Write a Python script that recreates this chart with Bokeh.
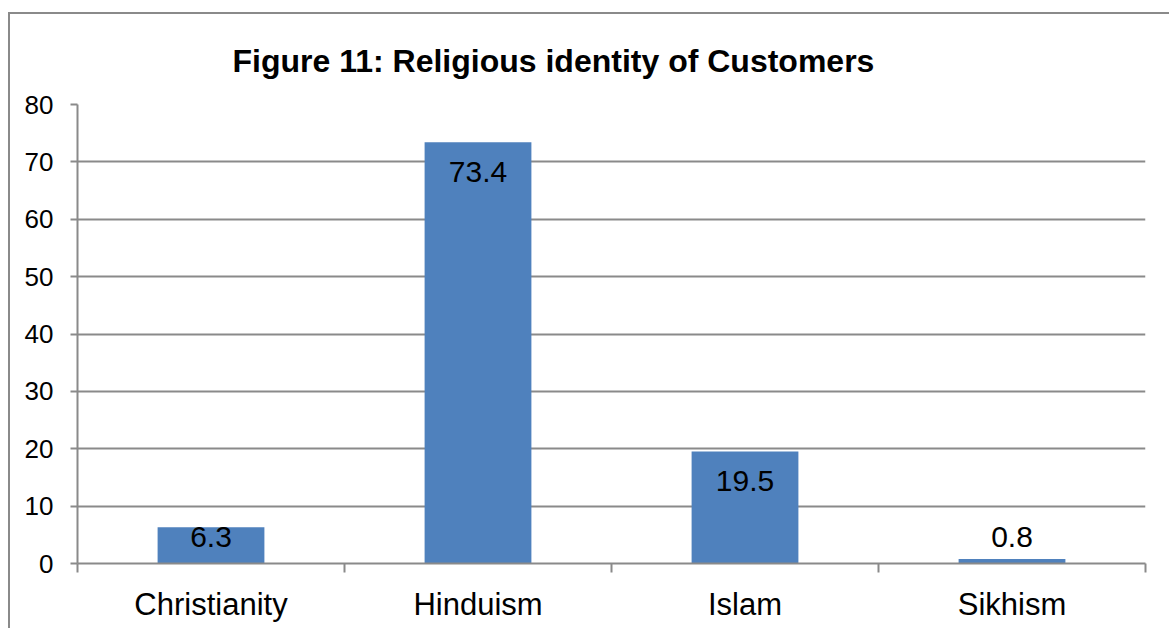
import numpy as np
from bokeh.plotting import figure
from bokeh.models import ColumnDataSource, FixedTicker, Range1d
from bokeh.embed import file_html
from bokeh.resources import INLINE
from bokeh.core.properties import value

categories = ["Christianity", "Hinduism", "Islam", "Sikhism"]
percent = [6.3, 73.4, 19.5, 0.8]
y_ticks = [0, 10, 20, 30, 40, 50, 60, 70, 80]

FONT = "Liberation Sans"
GRID = "#8a8a8a"

xs = np.arange(1, len(categories) + 1)
vals = np.array(percent)
label_y = np.maximum(vals - 5.2, 4.7)
src = ColumnDataSource(dict(x=xs, top=vals, ly=label_y,
                            txt=[f"{v:.1f}" for v in vals]))

p = figure(width=1161, height=616, output_backend="svg", toolbar_location=None,
           x_range=Range1d(0.5, len(categories) + 0.5), y_range=Range1d(0, 80),
           min_border_left=67, min_border_right=26, min_border_top=89,
           min_border_bottom=67,
           styles={"border-left": f"2px solid {GRID}", "border-top": f"2px solid {GRID}",
                   "margin-left": "8px", "margin-top": "12px"})

p.title.text = "Figure 11: Religious identity of Customers"
p.title.text_font = FONT
p.title.text_font_size = "32px"
p.title.text_font_style = "bold"
p.title.text_color = "black"
p.title.align = "left"
p.title.offset = 155
p.title.standoff = 52

p.outline_line_color = None
p.background_fill_color = "white"
p.border_fill_color = "white"

p.vbar(x="x", top="top", bottom=0, width=0.4, source=src,
       fill_color="#4F81BD", line_color=None)
p.text(x="x", y="ly", text="txt", source=src, text_align="center",
       text_baseline="middle", text_font=value(FONT), text_font_size="30px",
       text_color="black")

# y axis
p.yaxis.ticker = FixedTicker(ticks=y_ticks)
p.yaxis.major_tick_in = 0
p.yaxis.major_tick_out = 7
p.yaxis.minor_tick_line_color = None
p.yaxis.axis_line_color = GRID
p.yaxis.axis_line_width = 2
p.yaxis.major_tick_line_color = GRID
p.yaxis.major_tick_line_width = 2
p.yaxis.major_label_text_font = FONT
p.yaxis.major_label_text_font_size = "26px"
p.yaxis.major_label_text_color = "black"
p.yaxis.major_label_standoff = 17

# x axis
p.xaxis.ticker = FixedTicker(ticks=list(xs), minor_ticks=list(np.arange(0.5, len(categories) + 1, 1.0)))
p.xaxis.major_label_overrides = {int(i): c for i, c in zip(xs, categories)}
p.xaxis.major_tick_in = 0
p.xaxis.major_tick_out = 0
p.xaxis.minor_tick_in = 0
p.xaxis.minor_tick_out = 9
p.xaxis.minor_tick_line_color = GRID
p.xaxis.minor_tick_line_width = 2
p.xaxis.axis_line_color = GRID
p.xaxis.axis_line_width = 2
p.xaxis.major_label_text_font = FONT
p.xaxis.major_label_text_font_size = "31px"
p.xaxis.major_label_text_color = "black"
p.xaxis.major_label_standoff = 14

p.xgrid.grid_line_color = None
p.ygrid.ticker = FixedTicker(ticks=y_ticks)
p.ygrid.grid_line_color = GRID
p.ygrid.grid_line_width = 2

open("out.html", "w").write(file_html(p, INLINE))
